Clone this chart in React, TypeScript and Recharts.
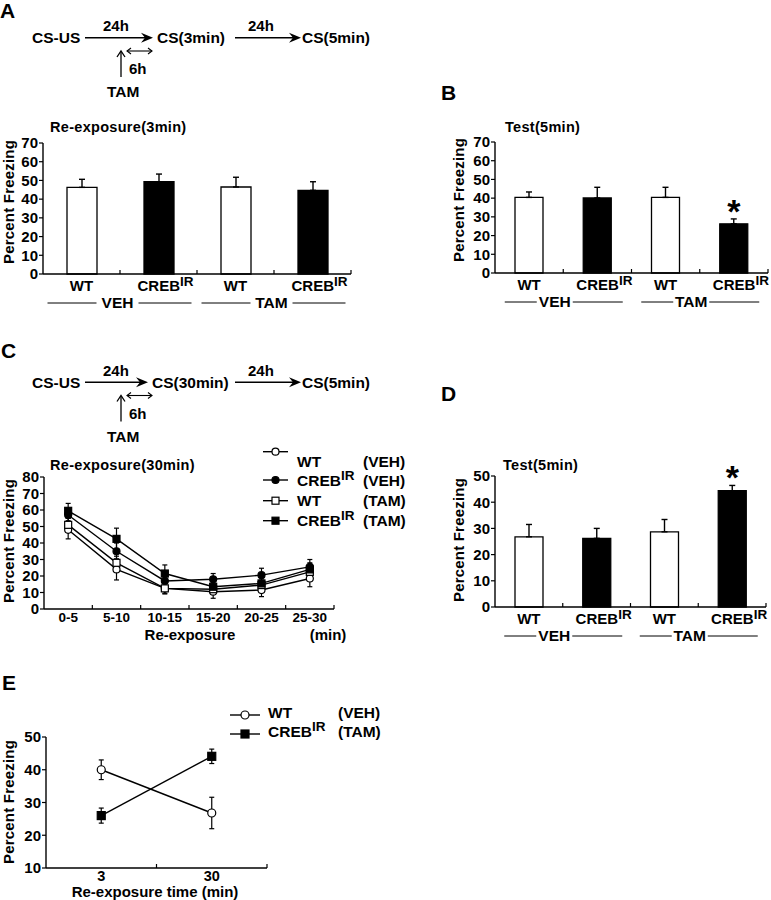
import React from "react";
import {
    BarChart, Bar, Cell, LineChart, Line, XAxis, YAxis, ErrorBar, LabelList, Legend,
} from "recharts";

const FONT = "'Liberation Sans', Arial, Helvetica, sans-serif";

// ---- bar panels (A, B, D) ----
const genotypes = ["WT", "CREB", "WT", "CREB"];
const treatments = ["VEH", "VEH", "TAM", "TAM"];
const barFills = ["#fff", "#000", "#fff", "#000"];

const reexp3Mean = [46.3, 49.3, 46.5, 44.7];
const reexp3Err = [4.3, 4.1, 5.2, 4.6];
const reexp3Sig = [false, false, false, false];

const testBMean = [40.4, 40.1, 40.4, 26.3];
const testBErr = [2.9, 5.7, 5.4, 2.6];
const testBSig = [false, false, false, true];

const testDMean = [26.8, 26.2, 28.7, 44.4];
const testDErr = [4.7, 3.8, 4.7, 2.0];
const testDSig = [false, false, false, true];

const ticks70 = [0, 10, 20, 30, 40, 50, 60, 70];
const ticks50 = [0, 10, 20, 30, 40, 50];

// ---- time course (C) ----
const bins = ["0-5", "5-10", "10-15", "15-20", "20-25", "25-30"];
const wtVeh30 = [48, 24, 12.5, 10.5, 11.5, 18.5];
const wtVeh30Err = [5.5, 6.4, 3.4, 4, 4, 5];
const crebVeh30 = [57, 35, 17, 18, 20.5, 25.5];
const crebVeh30Err = [4, 5, 3, 3.5, 4.2, 4.5];
const wtTam30 = [51, 28, 12.5, 12, 14.5, 22.5];
const wtTam30Err = [4, 4, 3, 3, 3, 4];
const crebTam30 = [59.5, 42.5, 21.5, 13.5, 15.5, 24];
const crebTam30Err = [4.5, 6.5, 5.2, 3, 3.5, 4];
const ticks80 = [0, 10, 20, 30, 40, 50, 60, 70, 80];

// ---- re-exposure time (E) ----
const reexpTimes = ["3", "30"];
const wtVehE = [40, 26.8];
const wtVehEErr = [3, 4.8];
const crebTamE = [26, 44.1];
const crebTamEErr = [2.3, 2.2];
const ticksE = [10, 20, 30, 40, 50];

type Row = { name: string; treat: string; mean: number; err: number[]; fill: string; sig: boolean };

const barRows = (mean: number[], err: number[], sig: boolean[]): Row[] =>
    genotypes.map((g, i) => ({
        name: g, treat: treatments[i], mean: mean[i], err: [0, err[i]], fill: barFills[i], sig: sig[i],
    }));

const boldText = { fontFamily: FONT, fontWeight: "bold" as const, fill: "#000" };

const Marker = ({ cx, cy, shape, filled, size }: any) => {
    const fill = filled ? "#000" : "#fff";
    if (shape === "square") {
        return <rect x={cx - size / 2} y={cy - size / 2} width={size} height={size} fill={fill} stroke="#000" strokeWidth={1.2} />;
    }
    return <circle cx={cx} cy={cy} r={size / 2} fill={fill} stroke="#000" strokeWidth={1.2} />;
};

type PanelBox = {
    left: number; top: number; width: number; height: number;
    mTop: number; mRight: number; yW: number; xH: number;
};

type BarPanelProps = PanelBox & {
    rows: Row[]; yMax: number; ticks: number[]; barSize: number;
    groupDx: number; lineIn: number; leftOuter: number; rightOuter: number;
};

const BarPanel: React.FC<BarPanelProps> = (p) => {
    const plotW = p.width - p.yW - p.mRight;
    const plotH = p.height - p.mTop - p.xH;
    const band = plotW / p.rows.length;

    const renderTick = (t: any) => {
        const { x, y, payload } = t;
        const i = t.index ?? payload.index;
        const creb = payload.value === "CREB";
        const gx = x + band / 2 + p.groupDx;
        return (
            <g>
                <line x1={x + band / 2} x2={x + band / 2} y1={y} y2={y - 4} stroke="#000" strokeWidth={1.2} />
                <text x={creb ? x + 7 : x} y={y + 17} textAnchor="middle" fontSize={15} {...boldText}>
                    {creb ? "CREB" : "WT"}
                    {creb && <tspan dy={-5} fontSize={13.5}>IR</tspan>}
                </text>
                {i % 2 === 0 && (
                    <g>
                        <line x1={gx - p.leftOuter} x2={gx - p.lineIn} y1={y + 29} y2={y + 29} stroke="#000" strokeWidth={1} />
                        <line x1={gx + p.lineIn} x2={gx + p.rightOuter} y1={y + 29} y2={y + 29} stroke="#000" strokeWidth={1} />
                        <text x={gx} y={y + 34} textAnchor="middle" fontSize={15.5} {...boldText}>{p.rows[i].treat}</text>
                    </g>
                )}
            </g>
        );
    };

    const renderStar = (l: any) => {
        const { x, y, width, index } = l;
        const r = p.rows[index];
        if (!r || !r.sig) return null;
        const errPx = (r.err[1] * plotH) / p.yMax;
        return (
            <text key={`s${index}`} x={x + width / 2} y={y - errPx + 4} textAnchor="middle" fontSize={34} {...boldText}>*</text>
        );
    };

    return (
        <div style={{ position: "absolute", left: p.left, top: p.top }}>
            <BarChart width={p.width} height={p.height} data={p.rows}
                margin={{ top: p.mTop, right: p.mRight, left: 0, bottom: 0 }}>
                <XAxis dataKey="name" height={p.xH} tickLine={false} tickSize={0} tickMargin={0}
                    interval={0} axisLine={{ stroke: "#000", strokeWidth: 1.4 }} tick={renderTick} />
                <YAxis width={p.yW} domain={[0, p.yMax]} ticks={p.ticks} interval={0}
                    tickSize={4} tickMargin={1}
                    axisLine={{ stroke: "#000", strokeWidth: 1.4 }} tickLine={{ stroke: "#000", strokeWidth: 1.2 }}
                    tick={{ fontSize: 15, ...boldText }} />
                <Bar dataKey="mean" barSize={p.barSize} stroke="#000" strokeWidth={1.3} isAnimationActive={false}>
                    {p.rows.map((r, i) => <Cell key={i} fill={r.fill} />)}
                    <ErrorBar dataKey="err" direction="y" width={3} stroke="#000" strokeWidth={1.4} />
                    <LabelList dataKey="mean" content={renderStar} />
                </Bar>
            </BarChart>
        </div>
    );
};

type Series = {
    key: string; label: string; sup?: string; tag: string; shape: string; filled: boolean;
    values: number[]; errs: number[];
};

type LegendLayout = {
    left: number; top: number; baselines: number[]; markerYs: number[];
    lineX1: number; lineX2: number; textX: number; tagX: number;
};

type LinePanelProps = PanelBox & {
    cats: string[]; series: Series[]; yMin: number; yMax: number; ticks: number[];
    markerSize: number; tickFont: number; legend: LegendLayout;
};

const LinePanel: React.FC<LinePanelProps> = (p) => {
    const plotW = p.width - p.yW - p.mRight;
    const band = plotW / p.cats.length;
    const data = p.cats.map((c, i) => {
        const row: any = { cat: c };
        p.series.forEach((s) => {
            row[s.key] = s.values[i];
            row[s.key + "Err"] = s.errs[i];
        });
        return row;
    });

    const renderTick = (t: any) => {
        const { x, y, payload } = t;
        return (
            <g>
                <line x1={x + band / 2} x2={x + band / 2} y1={y} y2={y - 4} stroke="#000" strokeWidth={1.2} />
                <text x={x} y={y + 13} textAnchor="middle" fontSize={p.tickFont} {...boldText}>{payload.value}</text>
            </g>
        );
    };

    const lg = p.legend;
    const renderLegend = () => (
        <svg width={190} height={100} style={{ overflow: "visible" }}>
            {p.series.map((s, i) => (
                <g key={s.key}>
                    <line x1={lg.lineX1} x2={lg.lineX2} y1={lg.markerYs[i]} y2={lg.markerYs[i]} stroke="#000" strokeWidth={1.4} />
                    <Marker cx={(lg.lineX1 + lg.lineX2) / 2} cy={lg.markerYs[i]} shape={s.shape} filled={s.filled} size={p.markerSize} />
                    <text x={lg.textX} y={lg.baselines[i]} fontSize={15.5} {...boldText}>
                        {s.label}
                        {s.sup && <tspan dy={-6} fontSize={13.5}>{s.sup}</tspan>}
                    </text>
                    <text x={lg.tagX} y={lg.baselines[i]} fontSize={15.5} {...boldText}>{s.tag}</text>
                </g>
            ))}
        </svg>
    );

    return (
        <div style={{ position: "absolute", left: p.left, top: p.top }}>
            <LineChart width={p.width} height={p.height} data={data}
                margin={{ top: p.mTop, right: p.mRight, left: 0, bottom: 0 }}>
                <XAxis dataKey="cat" scale="band" height={p.xH} tickLine={false} tickSize={0} tickMargin={0}
                    interval={0} axisLine={{ stroke: "#000", strokeWidth: 1.4 }} tick={renderTick} />
                <YAxis width={p.yW} domain={[p.yMin, p.yMax]} ticks={p.ticks} interval={0}
                    tickSize={4} tickMargin={1}
                    axisLine={{ stroke: "#000", strokeWidth: 1.4 }} tickLine={{ stroke: "#000", strokeWidth: 1.2 }}
                    tick={{ fontSize: 15, ...boldText }} />
                <Legend layout="vertical" align="center" verticalAlign="middle" content={renderLegend}
                    wrapperStyle={{ left: lg.left, top: lg.top, width: 190, height: 100 }} />
                {p.series.map((s) => (
                    <Line key={s.key} dataKey={s.key} type="linear" stroke="#000" strokeWidth={1.4}
                        isAnimationActive={false} activeDot={false} legendType="none"
                        dot={(d: any) => (
                            <Marker key={`${s.key}${d.index}`} cx={d.cx} cy={d.cy} shape={s.shape} filled={s.filled} size={p.markerSize} />
                        )}>
                        <ErrorBar dataKey={s.key + "Err"} direction="y" width={2.5} stroke="#000" strokeWidth={1.2} />
                    </Line>
                ))}
            </LineChart>
        </div>
    );
};

const seriesC: Series[] = [
    { key: "wtVeh", label: "WT", tag: "(VEH)", shape: "circle", filled: false, values: wtVeh30, errs: wtVeh30Err },
    { key: "crebVeh", label: "CREB", sup: "IR", tag: "(VEH)", shape: "circle", filled: true, values: crebVeh30, errs: crebVeh30Err },
    { key: "wtTam", label: "WT", tag: "(TAM)", shape: "square", filled: false, values: wtTam30, errs: wtTam30Err },
    { key: "crebTam", label: "CREB", sup: "IR", tag: "(TAM)", shape: "square", filled: true, values: crebTam30, errs: crebTam30Err },
];

const seriesE: Series[] = [
    { key: "wtVeh", label: "WT", tag: "(VEH)", shape: "circle", filled: false, values: wtVehE, errs: wtVehEErr },
    { key: "crebTam", label: "CREB", sup: "IR", tag: "(TAM)", shape: "square", filled: true, values: crebTamE, errs: crebTamEErr },
];

// protocol diagram drawn above panels A and C
const Protocol = ({ dy, mid, midX }: { dy: number; mid: string; midX: number }) => {
    const y = 37.7 + dy;
    const head = (xe: number) => `M${xe},${y} L${xe - 12},${y - 5} L${xe - 8},${y} L${xe - 12},${y + 5} Z`;
    return (
        <g>
            <text x={32} y={43 + dy} fontSize={15.5} {...boldText}>CS-US</text>
            <line x1={85} x2={145} y1={y} y2={y} stroke="#000" strokeWidth={1.5} />
            <path d={head(midX - 4)} fill="#000" />
            <text x={103} y={31 + dy} fontSize={15} {...boldText}>24h</text>
            <text x={midX} y={43 + dy} fontSize={15.5} {...boldText}>{mid}</text>
            <line x1={235} x2={296} y1={y} y2={y} stroke="#000" strokeWidth={1.5} />
            <path d={head(301)} fill="#000" />
            <text x={248} y={31 + dy} fontSize={15} {...boldText}>24h</text>
            <text x={302} y={43 + dy} fontSize={15.5} {...boldText}>CS(5min)</text>
            <line x1={121} x2={121} y1={77 + dy} y2={52 + dy} stroke="#000" strokeWidth={1.3} />
            <polyline points={`117,${57 + dy} 121,${51 + dy} 125,${57 + dy}`} fill="none" stroke="#000" strokeWidth={1.3} />
            <line x1={127} x2={152} y1={51 + dy} y2={51 + dy} stroke="#000" strokeWidth={1.1} />
            <polyline points={`131,${48 + dy} 127,${51 + dy} 131,${54 + dy}`} fill="none" stroke="#000" strokeWidth={1.1} />
            <polyline points={`148,${48 + dy} 152,${51 + dy} 148,${54 + dy}`} fill="none" stroke="#000" strokeWidth={1.1} />
            <text x={129} y={74 + dy} fontSize={15} {...boldText}>6h</text>
            <text x={107} y={97 + dy} fontSize={15.5} {...boldText}>TAM</text>
        </g>
    );
};

const YTitle = ({ x, y }: { x: number; y: number }) => (
    <text x={x} y={y} transform={`rotate(-90, ${x}, ${y})`} textAnchor="middle" fontSize={15}
        letterSpacing={0.2} {...boldText}>Percent Freezing</text>
);

const Title = ({ x, y, children }: { x: number; y: number; children: string }) => (
    <text x={x} y={y} fontSize={14.5} letterSpacing={0.3} {...boldText}>{children}</text>
);

export default function App() {
    return (
        <div style={{ position: "absolute", left: 0, top: 0, width: 771, height: 900, background: "#fff" }}>
            <BarPanel left={0} top={100} width={400} height={220} mTop={43} mRight={49} yW={43} xH={46}
                rows={barRows(reexp3Mean, reexp3Err, reexp3Sig)} yMax={70} ticks={ticks70} barSize={30}
                groupDx={-2.5} lineIn={21} leftOuter={70} rightOuter={74} />
            <BarPanel left={440} top={100} width={331} height={220} mTop={42} mRight={3} yW={55} xH={47}
                rows={barRows(testBMean, testBErr, testBSig)} yMax={70} ticks={ticks70} barSize={28}
                groupDx={-8.5} lineIn={18} leftOuter={50} rightOuter={68} />
            <BarPanel left={440} top={420} width={331} height={225} mTop={56} mRight={5} yW={55} xH={38}
                rows={barRows(testDMean, testDErr, testDSig)} yMax={50} ticks={ticks50} barSize={28}
                groupDx={-8.5} lineIn={18} leftOuter={50} rightOuter={68} />
            <LinePanel left={0} top={440} width={440} height={205} mTop={37} mRight={106} yW={44} xH={36}
                cats={bins} series={seriesC} yMin={0} yMax={80} ticks={ticks80} markerSize={7} tickFont={13.5}
                legend={{ left: 255, top: 5, baselines: [21.7, 41, 61, 81], markerYs: [6.7, 35, 55.7, 75.7],
                    lineX1: 8, lineX2: 33, textX: 42, tagX: 108 }} />
            <LinePanel left={0} top={690} width={400} height={210} mTop={47} mRight={133} yW={46} xH={32}
                cats={reexpTimes} series={seriesE} yMin={10} yMax={50} ticks={ticksE} markerSize={8} tickFont={14.5}
                legend={{ left: 222, top: 5, baselines: [23, 42], markerYs: [20, 39],
                    lineX1: 8, lineX2: 38, textX: 46, tagX: 116 }} />

            <svg width={771} height={900} style={{ position: "absolute", left: 0, top: 0, pointerEvents: "none" }}>
                <text x={0} y={18} fontSize={21} {...boldText}>A</text>
                <text x={441} y={100} fontSize={21} {...boldText}>B</text>
                <text x={1} y={358} fontSize={21} {...boldText}>C</text>
                <text x={441} y={401} fontSize={21} {...boldText}>D</text>
                <text x={2} y={690} fontSize={21} {...boldText}>E</text>

                <Protocol dy={0} mid="CS(3min)" midX={157} />
                <Protocol dy={344.5} mid="CS(30min)" midX={152} />

                <Title x={50} y={132}>Re-exposure(3min)</Title>
                <Title x={505} y={132}>Test(5min)</Title>
                <Title x={50} y={470}>Re-exposure(30min)</Title>
                <Title x={503} y={470}>Test(5min)</Title>

                <YTitle x={14} y={202} />
                <YTitle x={464} y={200} />
                <YTitle x={14} y={541} />
                <YTitle x={464} y={540} />
                <YTitle x={14} y={802} />

                <text x={190} y={640} textAnchor="middle" fontSize={15} {...boldText}>Re-exposure</text>
                <text x={328} y={640} textAnchor="middle" fontSize={15} {...boldText}>(min)</text>
                <text x={155} y={897} textAnchor="middle" fontSize={15} {...boldText}>Re-exposure time (min)</text>
            </svg>
        </div>
    );
}
